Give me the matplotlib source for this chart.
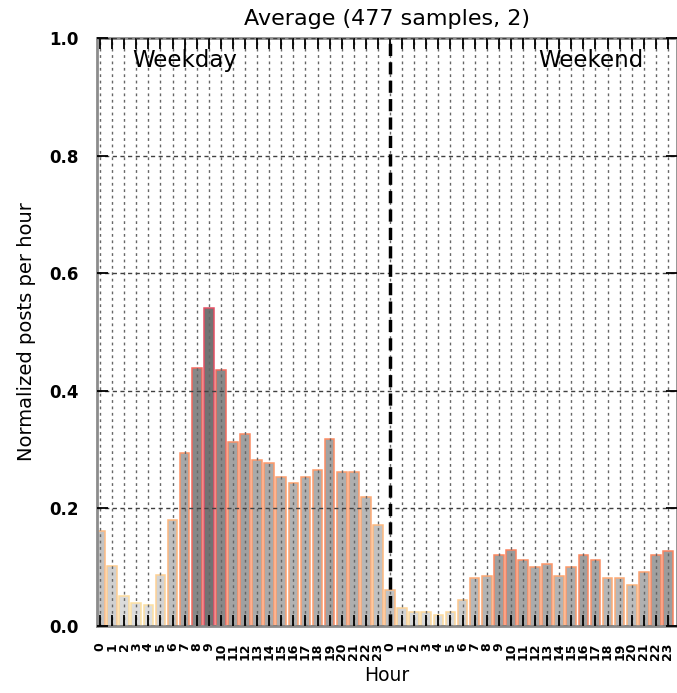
import numpy as np
import matplotlib
matplotlib.use("Agg")
import matplotlib.pyplot as plt
from matplotlib.colors import Normalize

# ---- data ---------------------------------------------------------------
hour_labels = [str(h) for h in range(24)]

weekday = [0.162, 0.102, 0.051, 0.039, 0.036, 0.086, 0.180, 0.294,
           0.439, 0.540, 0.435, 0.313, 0.326, 0.282, 0.278, 0.254,
           0.243, 0.254, 0.265, 0.318, 0.262, 0.262, 0.219, 0.172]

weekend = [0.061, 0.030, 0.023, 0.023, 0.019, 0.023, 0.045, 0.081,
           0.085, 0.121, 0.129, 0.112, 0.101, 0.105, 0.085, 0.101,
           0.121, 0.112, 0.081, 0.081, 0.070, 0.092, 0.121, 0.128]

n_samples = 477

fig = plt.figure(figsize=(6.77, 6.93), dpi=100)
ax = fig.add_axes([0.1433, 0.0967, 0.8567, 0.8485])

def bar_colors(vals, strength=1.0):
    v = np.array(vals)
    nrm = Normalize(vmin=0, vmax=v.max())(v) * strength
    faces = [str(round(0.9 - 0.45 * n, 3)) for n in nrm]
    edges = [plt.cm.magma_r(0.04 + 0.34 * n) for n in nrm]
    return faces, edges

values = weekday + weekend
xs = np.arange(len(values))
f1, e1 = bar_colors(weekday)
f2, e2 = bar_colors(weekend, 0.65)
ax.bar(xs, values, width=0.8, color=f1 + f2, edgecolor=e1 + e2,
       linewidth=1.1, zorder=1)

# weekday / weekend divider
ax.axvline(len(weekday), color='black', linewidth=2.5,
           linestyle=(0, (3.5, 1.8)), zorder=3)

ax.set_xlim(-0.25, 47.75)
ax.set_ylim(0, 1.0)
ax.set_xticks(xs)
ax.set_xticklabels(hour_labels + hour_labels, rotation=90,
                   fontsize=9, fontweight='bold')
ax.set_yticks(np.arange(0, 1.01, 0.2))
ax.set_yticklabels(['%.1f' % t for t in np.arange(0, 1.01, 0.2)],
                   fontsize=12, fontweight='bold')

ax.xaxis.grid(True, color='0.4', linestyle=(0, (2, 2.6)), linewidth=1.0, zorder=2)
ax.yaxis.grid(True, color='0.25', linestyle=(0, (3, 2.5)), linewidth=1.0, zorder=2)
ax.set_axisbelow(False)

ax.tick_params(axis='x', direction='in', length=8, width=1.3, top=True,
               pad=12)
ax.tick_params(axis='y', direction='in', length=8, width=1.3, right=True,
               pad=13)
for s in ax.spines.values():
    s.set_color('0.55')
    s.set_linewidth(2)

ax.text(2.7, 0.962, 'Weekday', fontsize=16.5, va='center', ha='left')
ax.text(36.3, 0.962, 'Weekend', fontsize=16.5, va='center', ha='left')

ax.set_title('Average (%d samples, 2)' % n_samples, fontsize=16, pad=9)
ax.set_ylabel('Normalized posts per hour', fontsize=14, labelpad=10)
ax.set_xlabel('Hour', fontsize=13.5, labelpad=4)

fig.savefig('out.png', dpi=100)
